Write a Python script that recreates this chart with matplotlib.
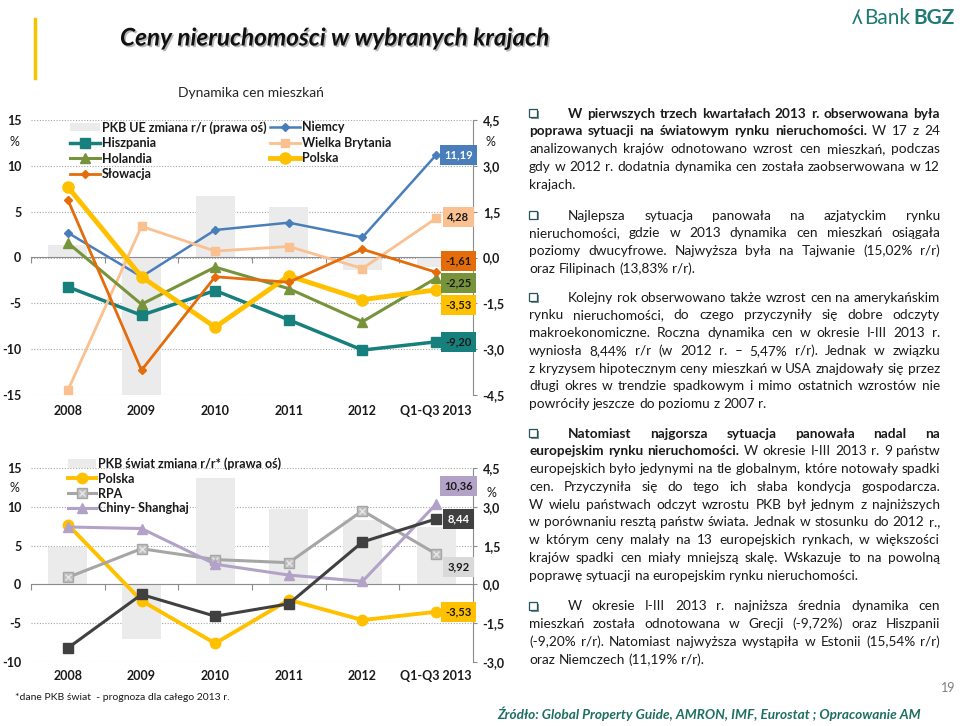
import numpy as np
import matplotlib.pyplot as plt
import matplotlib.patheffects as pe
from matplotlib.lines import Line2D
from matplotlib.patches import Patch, Rectangle

plt.rcParams['font.family'] = ['Lato', 'DejaVu Sans']

W, H = 960, 726

years = ["2008", "2009", "2010", "2011", "2012", "Q1-Q3 2013"]

# EU chart (left axis: house price change %, right axis: GDP %)
pkb_ue = [0.4, -4.5, 2.0, 1.65, -0.4, -0.3]
niemcy = [2.7, -2.1, 3.0, 3.8, 2.2, 11.19]
hiszpania = [-3.2, -6.3, -3.6, -6.8, -10.1, -9.20]
wielka_brytania = [-14.5, 3.4, 0.7, 1.2, -1.2, 4.28]
holandia = [1.6, -5.1, -1.05, -3.4, -7.0, -2.25]
polska = [7.7, -2.1, -7.6, -2.0, -4.6, -3.53]
slowacja = [6.3, -12.3, -2.1, -2.7, 0.9, -1.61]

# world chart
pkb_swiat = [1.45, -2.1, 4.1, 2.9, 2.5, 2.2]
rpa = [0.9, 4.6, 3.2, 2.8, 9.5, 3.92]
chiny = [7.4, 7.2, 2.6, 1.2, 0.4, 10.36]
usa = [-8.2, -1.3, -4.1, -2.5, 5.47, 8.44]

para1 = [
    "*W pierwszych trzech kwartałach 2013 r. obserwowana była*",
    "*poprawa sytuacji na światowym rynku nieruchomości.* W 17 z 24",
    "analizowanych krajów odnotowano wzrost cen mieszkań, podczas",
    "gdy w 2012 r. dodatnia dynamika cen została zaobserwowana w 12",
    "krajach.",
]
para2 = [
    "Najlepsza sytuacja panowała na azjatyckim rynku",
    "nieruchomości, gdzie w 2013 dynamika cen mieszkań osiągała",
    "poziomy dwucyfrowe. Najwyższa była na Tajwanie (15,02% r/r)",
    "oraz Filipinach (13,83% r/r).",
]
para3 = [
    "Kolejny rok obserwowano także wzrost cen na amerykańskim",
    "rynku nieruchomości, do czego przyczyniły się dobre odczyty",
    "makroekonomiczne. Roczna dynamika cen w okresie I-III 2013 r.",
    "wyniosła 8,44% r/r (w 2012 r. – 5,47% r/r). Jednak w związku",
    "z kryzysem hipotecznym ceny mieszkań w USA znajdowały się przez",
    "długi okres w trendzie spadkowym i mimo ostatnich wzrostów nie",
    "powróciły jeszcze  do poziomu z 2007 r.",
]
para4 = [
    "*Natomiast najgorsza sytuacja panowała nadal na*",
    "*europejskim rynku nieruchomości.* W okresie I-III 2013 r. 9 państw",
    "europejskich było jedynymi na tle globalnym, które notowały spadki",
    "cen. Przyczyniła się do tego ich słaba kondycja gospodarcza.",
    "W wielu państwach odczyt wzrostu PKB był jednym z najniższych",
    "w porównaniu resztą państw świata. Jednak w stosunku do  2012 r.,",
    "w którym ceny malały na 13 europejskich rynkach,  w większości",
    "krajów spadki cen miały mniejszą skalę. Wskazuje to na powolną",
    "poprawę sytuacji na europejskim rynku nieruchomości.",
]
para5 = [
    "W okresie I-III 2013 r. najniższa średnia dynamika cen",
    "mieszkań została odnotowana w Grecji (-9,72%) oraz Hiszpanii",
    "(-9,20% r/r). Natomiast najwyższa wystąpiła w Estonii (15,54% r/r)",
    "oraz Niemczech (11,19% r/r).",
]
paragraphs = [para1, para2, para3, para4, para5]
para_top = [113, 215, 297, 433, 606]

GRAY = '#8c8c8c'
BAR = '#ebebeb'
TEXT = '#1a1a1a'
TICK = 9

fig = plt.figure(figsize=(W / 100, H / 100), dpi=100)
renderer = fig.canvas.get_renderer()


def fx(x):
    return x / W


def fy(y):
    return 1 - y / H


def make_axes(left, top, right, bottom, ylim, yticks, xpad):
    ax = fig.add_axes([fx(left), fy(bottom), (right - left) / W, (bottom - top) / H])
    ax2 = ax.twinx()
    ax.set_zorder(ax2.get_zorder() + 1)
    ax.patch.set_visible(False)
    x = np.arange(len(years))
    ax.set_xlim(-0.5, len(years) - 0.5)
    ax.set_ylim(ylim)
    ax2.set_ylim(ylim[0] * 0.3, ylim[1] * 0.3)
    ax.set_yticks(yticks, [f"{t:g}" for t in yticks])
    rt = [t * 0.3 for t in yticks]
    ax2.set_yticks(rt, [f"{t:.1f}".replace('.', ',') for t in rt])
    ax.set_xticks(x, years)
    for a in (ax, ax2):
        for s in a.spines.values():
            s.set_visible(False)
    ax2.spines['right'].set_visible(True)
    ax2.spines['right'].set_color(GRAY)
    ax.tick_params(axis='y', length=0, pad=7, labelsize=TICK, labelcolor=TEXT)
    ax.tick_params(axis='x', length=0, pad=xpad, labelsize=TICK, labelcolor=TEXT)
    ax2.tick_params(axis='y', length=3, color=GRAY, pad=4, labelsize=TICK, labelcolor=TEXT)
    for lab in ax.get_xticklabels() + ax.get_yticklabels() + ax2.get_yticklabels():
        lab.set_fontweight('bold')
    ax2.set_axisbelow(True)
    ax2.yaxis.grid(True, linestyle=(0, (1, 1.5)), color='#a6a6a6', lw=0.8)
    zero = (0 - ylim[0]) / (ylim[1] - ylim[0])
    sec = ax.secondary_xaxis(zero)
    sec.set_alignment('bottom')
    sec.set_xticks(np.arange(-0.5, len(years), 1.0), labels=[])
    sec.tick_params(length=4, color=GRAY, direction='out')
    sec.spines['bottom'].set_color(GRAY)
    return ax, ax2, x


def value_label(ax, val, face, color, dy):
    ax.annotate(f"{val:.2f}".replace('.', ','), (len(years) - 1, val),
                xytext=(16, dy), textcoords='offset points', ha='center', va='center',
                fontsize=8, fontweight='bold', color=color, zorder=6,
                annotation_clip=False,
                bbox=dict(boxstyle='square,pad=0.4', fc=face, ec='none'))


# ---------- top chart ----------
ax, ax2, x = make_axes(31, 120, 473, 395, (-15, 15), list(range(-15, 16, 5)), 7.5)
ax2.bar(x, pkb_ue, width=0.53, color=BAR, zorder=2)

top_series = [
    ("Niemcy", niemcy, '#4a7ebb', 1.8, 'D', 4.5),
    ("Hiszpania", hiszpania, '#17807c', 2.5, 's', 7.5),
    ("Wielka Brytania", wielka_brytania, '#fac090', 2.0, 's', 6),
    ("Holandia", holandia, '#77933c', 2.2, '^', 6.5),
    ("Polska", polska, '#ffc000', 3.5, 'o', 8),
    ("Słowacja", slowacja, '#e46c0a', 2.0, 'D', 4.5),
]
handles = {}
for name, vals, col, lw, mk, ms in top_series:
    handles[name], = ax.plot(x, vals, color=col, lw=lw, marker=mk, ms=ms,
                             mec=col, mfc=col, label=name, zorder=3)

pkb_handle = Patch(facecolor=BAR, edgecolor='none')
order = [pkb_handle, handles["Hiszpania"], handles["Holandia"], handles["Słowacja"],
         handles["Niemcy"], handles["Wielka Brytania"], handles["Polska"]]
names = ["PKB UE zmiana r/r (prawa oś)", "Hiszpania", "Holandia", "Słowacja",
         "Niemcy", "Wielka Brytania", "Polska"]
leg = ax.legend(order, names, ncol=2, loc='upper left', bbox_to_anchor=(0.088, 0.997),
                frameon=False, fontsize=9, handlelength=2.4, handletextpad=0.15,
                labelspacing=0.28, columnspacing=0.3, borderpad=0, borderaxespad=0)
for t in leg.get_texts():
    t.set_fontweight('bold')
    t.set_color(TEXT)

value_label(ax, niemcy[-1], '#4a7ebb', 'white', 0)
value_label(ax, wielka_brytania[-1], '#fac090', TEXT, 1)
value_label(ax, slowacja[-1], '#e46c0a', TEXT, 8)
value_label(ax, holandia[-1], '#77933c', TEXT, -3.6)
value_label(ax, polska[-1], '#ffc000', TEXT, -10.8)
value_label(ax, hiszpania[-1], '#17807c', TEXT, 0)

fig.text(fx(251), fy(93), "Dynamika cen mieszkań", ha='center', va='center',
         fontsize=10, color='#262626')
fig.text(fx(14), fy(142), "%", ha='center', va='center', fontsize=TICK, color=TEXT)
fig.text(fx(490), fy(142), "%", ha='center', va='center', fontsize=TICK, color=TEXT)

# ---------- bottom chart ----------
bx, bx2, x = make_axes(31, 468, 473, 662, (-10, 15), list(range(-10, 16, 5)), 6)
bx2.bar(x, pkb_swiat, width=0.53, color=BAR, zorder=2)

h_pol, = bx.plot(x, polska, color='#ffc000', lw=2.8, marker='o', ms=7.5, zorder=3)
h_rpa, = bx.plot(x, rpa, color='#a6a6a6', lw=2.2, marker='s', ms=7,
                 mfc='#bfbfbf', mec='#a6a6a6', zorder=3)
h_rpx, = bx.plot(x, rpa, ls='none', marker='x', ms=5, mew=1, color='#e6e6e6', zorder=3)
h_chn, = bx.plot(x, chiny, color='#b3a2c7', lw=2.2, marker='^', ms=7.5, zorder=3)
h_usa, = bx.plot(x, usa, color='#404040', lw=2.2, marker='s', ms=7, zorder=4)

leg2 = bx.legend([Patch(facecolor=BAR, edgecolor='none'), h_pol, (h_rpa, h_rpx), h_chn],
                 ["PKB świat zmiana r/r* (prawa oś)", "Polska", "RPA", "Chiny- Shanghaj"],
                 loc='upper left', bbox_to_anchor=(0.084, 1.055), frameon=False,
                 fontsize=9, handlelength=2.2, handletextpad=0.15, labelspacing=0.22,
                 borderpad=0, borderaxespad=0)
for t in leg2.get_texts():
    t.set_fontweight('bold')
    t.set_color(TEXT)

value_label(bx, chiny[-1], '#b3a2c7', TEXT, 13)
value_label(bx, usa[-1], '#404040', 'white', 0)
value_label(bx, rpa[-1], '#d9d9d9', TEXT, -9.4)
value_label(bx, polska[-1], '#ffc000', TEXT, 0)

fig.text(fx(14), fy(488), "%", ha='center', va='center', fontsize=TICK, color=TEXT)
fig.text(fx(491), fy(493), "%", ha='center', va='center', fontsize=TICK, color=TEXT)
fig.text(fx(15), fy(697), "*dane PKB świat  - prognoza dla całego 2013 r.", ha='left',
         va='center', fontsize=7.5, color=TEXT)

# ---------- header ----------
fig.add_artist(Line2D([fx(35), fx(35)], [fy(19), fy(78)], transform=fig.transFigure,
                      color='#f5c400', lw=2.5))
fig.text(fx(120), fy(38), "Ceny nieruchomości w wybranych krajach", ha='left', va='center',
         fontsize=17.5, fontweight='bold', fontstyle='italic', color='#111111',
         path_effects=[pe.SimplePatchShadow(offset=(1.2, -1.2), shadow_rgbFace='#888888',
                                            alpha=0.6), pe.Normal()])
t_bgz = fig.text(fx(955), fy(18), "BGZ", ha='right', va='center', fontsize=15,
                 fontweight='bold', color='#1f7a73')
bgz_w = t_bgz.get_window_extent(renderer).width
t_bank = fig.text(fx(955 - bgz_w - 3), fy(18), "Bank", ha='right', va='center', fontsize=15,
                  color='#1f7a73')
bank_w = t_bank.get_window_extent(renderer).width
fig.text(fx(955 - bgz_w - bank_w - 5), fy(18), "ʎ", ha='right', va='center', fontsize=15,
         color='#1f7a73')

# ---------- text panel ----------
TEXT_X, FIRST_X, TEXT_R = 529, 568, 940
PITCH = 17.8


def words_of(line):
    out = []
    for i, seg in enumerate(line.split('*')):
        for w in seg.split():
            out.append((w, i % 2 == 1))
    return out


def width_of(s, size, bold):
    t = fig.text(0, 0, s, fontsize=size, fontweight='bold' if bold else 'normal')
    w = t.get_window_extent(renderer).width
    t.remove()
    return w


def space_of(size):
    return width_of("n n", size, False) - width_of("nn", size, False)


base = 11.0
sp = space_of(base)
worst = 0
for para in paragraphs:
    for i, line in enumerate(para[:-1]):
        ws = words_of(line)
        nat = sum(width_of(w, base, b) for w, b in ws) + sp * (len(ws) - 1)
        avail = TEXT_R - (FIRST_X if i == 0 else TEXT_X)
        worst = max(worst, nat / avail)
size = base * min(1.0, 0.995 / worst)
sp = space_of(size)

for para, top in zip(paragraphs, para_top):
    # bullet
    bx0, by0 = TEXT_X, top - 4
    fig.add_artist(Rectangle((fx(bx0 + 1.5), fy(by0 + 9.5)), 8 / W, 8 / H,
                             transform=fig.transFigure, fc='#7d9499', ec='none'))
    fig.add_artist(Rectangle((fx(bx0), fy(by0 + 8)), 8 / W, 8 / H,
                             transform=fig.transFigure, fc='white', ec='#24545c', lw=0.9))
    for i, line in enumerate(para):
        ws = words_of(line)
        x0 = FIRST_X if i == 0 else TEXT_X
        widths = [width_of(w, size, b) for w, b in ws]
        if i == len(para) - 1 or len(ws) < 2:
            gap = sp
        else:
            gap = (TEXT_R - x0 - sum(widths)) / (len(ws) - 1)
        xx = x0
        ybase = fy(top + i * PITCH + 4.5)
        for (w, b), wd in zip(ws, widths):
            fig.text(fx(xx), ybase, w, ha='left', va='baseline', fontsize=size,
                     fontweight='bold' if b else 'normal', color=TEXT)
            xx += wd + gap

fig.text(fx(955), fy(688), "19", ha='right', va='center', fontsize=9, color='#7f7f7f')
fig.text(fx(497), fy(714), "Źródło: Global Property Guide, AMRON, IMF, Eurostat ; Opracowanie AM",
         ha='left', va='center', fontsize=9.8, fontweight='bold', fontstyle='italic',
         color='#1e6f63')

fig.savefig("out.png", dpi=100)
